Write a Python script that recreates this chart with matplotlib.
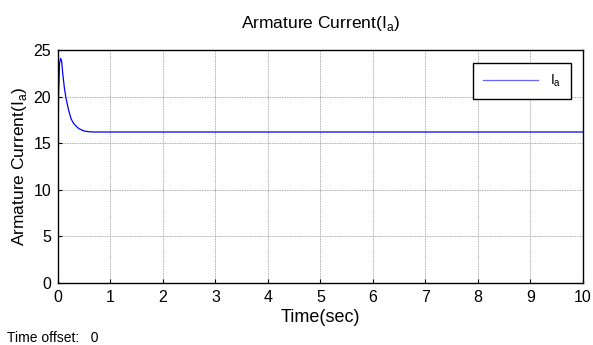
import matplotlib
matplotlib.use("Agg")
import matplotlib.pyplot as plt

plt.rcParams['font.family'] = ['Liberation Sans', 'DejaVu Sans']
plt.rcParams['mathtext.fontset'] = 'custom'
plt.rcParams['mathtext.rm'] = 'Liberation Sans'

time_s = [0, 0.0, 0.01, 0.03, 0.05, 0.07, 0.09, 0.12, 0.15, 0.2, 0.25, 0.3, 0.35, 0.4, 0.5, 0.6, 0.7, 10]
current_a = [0, 12, 20, 23.6, 24.1, 23.8, 22.5, 21.0, 19.9, 18.6, 17.6, 17.1, 16.8, 16.55, 16.3, 16.22, 16.2, 16.2]

xticks = list(range(0, 11))
yticks = [0, 5, 10, 15, 20, 25]

fig = plt.figure(figsize=(5.93, 3.45), dpi=100)
ax = fig.add_axes([0.0978, 0.180, 0.8852, 0.675])
ax.plot(time_s, current_a, color='#0000ff', lw=0.9, label='I$_\\mathrm{a}$')
ax.set_xlim(0, 10)
ax.set_ylim(0, 25)
ax.set_xticks(xticks)
ax.set_yticks(yticks)
ax.tick_params(direction='in', labelsize=11.5, length=3, width=0.8, pad=5)
ax.grid(True, color='#909090', linestyle=(0, (1, 1)), linewidth=0.6)
for s in ax.spines.values():
    s.set_linewidth(1.0)
ax.set_title('Armature Current(I$_\\mathrm{a}$)', fontsize=12.5, pad=16)
ax.set_xlabel('Time(sec)', fontsize=13, labelpad=3)
ax.set_ylabel('Armature Current(I$_\\mathrm{a}$)', fontsize=12.5, labelpad=3)
leg = ax.legend(loc='upper right', fontsize=10, frameon=True, fancybox=False,
                edgecolor='black', framealpha=1, handlelength=4.0, borderpad=0.7,
                bbox_to_anchor=(0.99, 0.975))
leg.get_frame().set_linewidth(1.0)
leg.get_lines()[0].set_color('#6666ff')
fig.text(0.012, 0.01, 'Time offset:   0', fontsize=10)
fig.savefig('out.png', dpi=100)
